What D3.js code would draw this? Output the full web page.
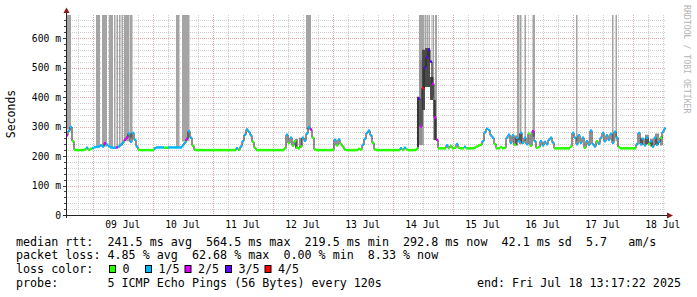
<!DOCTYPE html>
<html>
<head>
<meta charset="utf-8">
<script src="https://cdn.jsdelivr.net/npm/d3@7"></script>
<style>
  body { margin: 0; background: #fff; }
  svg text { font-family: "DejaVu Sans Mono", monospace; white-space: pre; }
</style>
</head>
<body>
<div id="chart"></div>
<script>
// graph window (10 days, 48 min per consolidated step)
const startTime = new Date(2025, 6, 8, 13, 17, 22);
const endTime = new Date(2025, 6, 18, 13, 17, 22);
const stepMinutes = 48;

// median rtt per step, ms
const median = [
  270,285,298,250,221,220,220,220,220,222,
  228,221,224,227,230,231,232,236,232,243,
  238,233,229,228,228,229,232,238,245,255,
  262,276,248,278,255,232,221,220,220,220,
  220,220,220,220,226,229,229,229,229,228,
  228,229,229,229,229,229,229,229,236,245,
  258,284,262,235,221,220,220,220,220,220,
  220,220,220,220,220,220,220,220,220,220,
  220,220,220,220,220,226,221,232,250,272,
  290,282,270,248,228,220,220,220,220,220,
  220,220,220,220,220,220,220,220,220,226,
  272,244,262,235,250,228,226,232,262,252,
  276,297,290,262,222,220,220,220,220,220,
  220,220,220,221,255,236,256,240,232,222,
  220,220,220,220,220,220,224,222,238,258,
  278,286,270,245,222,220,220,220,220,220,
  220,220,220,220,220,220,220,226,221,228,
  222,220,220,220,220,224,395,300,430,500,
  535,560,520,445,330,255,226,226,226,226,
  236,227,234,226,228,240,228,226,226,231,
  226,226,226,226,228,232,236,238,250,280,
  292,288,270,262,240,226,226,230,226,228,
  262,272,245,270,238,262,250,278,245,262,
  240,276,235,284,250,228,230,250,236,248,
  240,255,262,246,226,226,226,226,226,226,
  226,226,232,278,262,240,270,245,262,228,
  250,238,286,240,232,250,242,262,278,250,
  270,255,275,245,282,262,230,226,226,226,
  226,226,226,226,226,240,278,240,258,236,
  262,240,250,232,262,238,248,262,282,293
];

// loss class runs [fromStep, toStep, lostPings]; other steps lost 0
const lossRuns = [
  [0,0,2],[1,2,1],[10,10,1],[13,18,1],[19,19,2],[20,24,1],[25,25,2],[26,28,1],
  [29,30,2],[31,35,1],[44,48,1],[51,59,1],[60,60,2],[61,62,1],
  [85,85,1],[87,92,1],[110,110,1],[112,112,1],[118,121,1],[122,122,2],
  [134,134,1],[136,136,1],[148,152,1],[167,167,1],[169,169,1],
  [176,176,3],[177,177,2],[178,178,4],[179,182,3],[183,185,2],
  [190,190,1],[195,195,1],[199,199,1],[208,213,1],
  [220,223,1],[225,230,1],[233,233,2],[234,234,1],[237,243,1],
  [253,258,1],[260,264,1],[266,275,1],[285,290,1],[292,296,1],[298,299,1]
];
const lossLabels = ["0", "1/5", "2/5", "3/5", "4/5"];
const lossColors = ["#26ff00", "#00b8ff", "#dd00ff", "#5e00ff", "#ff0000"];

// smoke: [fromHour, toHour, low ms, high ms]
const smokeBars = [
  [0,2,290,2000],[12,13.6,232,2000],[14.4,16.4,232,2000],[17.2,18.8,230,2000],
  [19.2,19.8,229,2000],[20.2,20.8,230,2000],[21.2,21.8,232,2000],[22.2,22.8,236,2000],
  [23.2,25.4,250,2000],[25.6,26.6,262,2000],[44,45.4,230,2000],[46.4,49.4,250,2000],
  [96,98,290,2000],[141.2,143.2,237,2000],[143.4,144,500,2000],[144.2,145,530,2000],
  [145.2,145.6,540,2000],[146.2,146.6,450,2000],[146.8,147.2,400,2000],[147.6,148.4,260,2000],
  [180.4,181.4,250,2000],[181.6,182.2,250,2000],[183.4,184,250,2000],[186.6,187.6,265,2000],
  [204,204.6,250,2000],[218.4,219,250,2000],[219.8,220.4,250,2000]
];
const smokeMid = [
  [141.4,142.4,237,525],[91.6,92.8,225,258],[93.2,94.4,228,262],
  [229.6,230.8,236,262],[231.6,233.2,240,272],[233.6,234.8,232,258],
  [235.6,237.2,238,276],[237.6,238.8,236,266],
  [179.6,180.8,235,270],[181.2,182.4,240,275]
];
const smokeDark = [
  [140.4,141.2,231,401],[142.4,143.6,356,560],[143.6,145.6,434,566],
  [145.6,147,390,468],[147,148,254,390]
];

const yTicks = [0, 100, 200, 300, 400, 500, 600];
const medianStats = [241.5, 564.5, 219.5, 292.8, 42.1];
const amPerSec = 5.7;
const lossStats = [4.85, 62.68, 0.00, 8.33];
const probeText = "5 ICMP Echo Pings (56 Bytes) every 120s";

const W = 697, H = 297;
const svg = d3.select("#chart").append("svg").attr("width", W).attr("height", H);

const x = d3.scaleTime().domain([startTime, endTime]).range([66, 666]);
const y = d3.scaleLinear().domain([0, 678]).range([215, 15]).clamp(true);

const stepTime = (i) => new Date(startTime.getTime() + i * stepMinutes * 60000);
const hourTime = (h) => new Date(startTime.getTime() + h * 3600000);
const px = (v) => Math.round(v) + 0.5;

// grid
const grid = svg.append("g");
d3.range(20, 678, 20).forEach((v) => {
  grid.append("line")
    .attr("x1", 66).attr("x2", 666).attr("y1", px(y(v))).attr("y2", px(y(v)))
    .attr("stroke", v % 100 ? "#cfcfcf" : "#e4a6a6")
    .attr("stroke-dasharray", "1,1");
});
d3.timeHour.every(6).range(startTime, endTime).forEach((t) => {
  const major = t.getHours() === 0;
  grid.append("line")
    .attr("x1", px(x(t))).attr("x2", px(x(t))).attr("y1", 15).attr("y2", 215)
    .attr("stroke", major ? "#e4a6a6" : "#cfcfcf")
    .attr("stroke-dasharray", "1,1");
});

// smoke
const smoke = svg.append("g");
function drawSmoke(list, color) {
  smoke.selectAll(null).data(list).enter().append("rect")
    .attr("x", (d) => x(hourTime(d[0])))
    .attr("width", (d) => x(hourTime(d[1])) - x(hourTime(d[0])))
    .attr("y", (d) => y(d[3]))
    .attr("height", (d) => y(d[2]) - y(d[3]))
    .attr("fill", color);
}
drawSmoke(smokeBars, "#a4a4a4");
drawSmoke(smokeMid, "#8e8e8e");
drawSmoke(smokeDark, "#4a4a4a");

// median line
const pts = median.map((m, i) => [x(stepTime(i)), y(m)]);
pts.push([x(stepTime(median.length)), y(median[median.length - 1])]);
svg.append("path")
  .attr("d", d3.line().curve(d3.curveStepAfter)(pts))
  .attr("fill", "none")
  .attr("stroke", "#202020")
  .attr("stroke-width", 1);

const lossOf = median.map(() => 0);
lossRuns.forEach(([a, b, l]) => { for (let i = a; i <= b; i++) lossOf[i] = l; });

svg.append("g").selectAll("rect").data(median).enter().append("rect")
  .attr("x", (d, i) => x(stepTime(i)))
  .attr("width", (d, i) => x(stepTime(i + 1)) - x(stepTime(i)))
  .attr("y", (d) => y(d) - 1.25)
  .attr("height", 2.5)
  .attr("fill", (d, i) => lossColors[lossOf[i]]);

// axes
const axis = svg.append("g");
axis.append("line").attr("x1", 63).attr("x2", 668).attr("y1", 215.5).attr("y2", 215.5)
  .attr("stroke", "#222");
axis.append("path").attr("d", "M667,212.5L673,215.5L667,218.5Z").attr("fill", "#8b1a1a");
axis.append("line").attr("x1", 66.5).attr("x2", 66.5).attr("y1", 218).attr("y2", 12)
  .attr("stroke", "#222");
axis.append("path").attr("d", "M63.5,13L66.5,7.5L69.5,13Z").attr("fill", "#8b1a1a");

d3.range(20, 678, 20).forEach((v) => {
  axis.append("line")
    .attr("x1", v % 100 ? 64 : 63).attr("x2", 66).attr("y1", px(y(v))).attr("y2", px(y(v)))
    .attr("stroke", "#444");
});

axis.selectAll("text.yl").data(yTicks).enter().append("text")
  .attr("x", 61).attr("y", (d) => y(d) + 3.5)
  .attr("text-anchor", "end")
  .attr("font-size", "9.7px")
  .text((d) => (d ? d + " m" : "0"));

const fmtDay = d3.timeFormat("%d %b");
axis.selectAll("text.xl").data(d3.timeDay.range(d3.timeDay.ceil(startTime), endTime)).enter()
  .append("text")
  .attr("x", (d) => x(d3.timeHour.offset(d, 12)))
  .attr("y", 228)
  .attr("text-anchor", "middle")
  .attr("font-size", "9.7px")
  .text((d) => fmtDay(d));

svg.append("text")
  .attr("transform", "translate(15,114) rotate(-90)")
  .attr("text-anchor", "middle")
  .attr("font-size", "11.5px")
  .text("Seconds");

svg.append("text")
  .attr("transform", "translate(684,5) rotate(90)")
  .attr("font-size", "8.2px")
  .attr("fill", "#b4b4b4")
  .text("RRDTOOL / TOBI OETIKER");

// legend
const legend = svg.append("g").attr("font-size", "11.7px");
const f1 = d3.format(".1f"), f2 = d3.format(".2f");
legend.append("text").attr("x", 16).attr("y", 245.5)
  .text("median rtt:  " + f1(medianStats[0]) + " ms avg  " + f1(medianStats[1]) + " ms max  " +
    f1(medianStats[2]) + " ms min  " + f1(medianStats[3]) + " ms now  " + f1(medianStats[4]) +
    " ms sd  " + f1(amPerSec) + "   am/s");
legend.append("text").attr("x", 16).attr("y", 259)
  .text("packet loss: " + f2(lossStats[0]) + " % avg  " + f2(lossStats[1]) + " % max  " +
    f2(lossStats[2]) + " % min  " + f2(lossStats[3]) + " % now");
legend.append("text").attr("x", 16).attr("y", 273).text("loss color:");
const boxX = [109, 145, 184.5, 225, 264.5];
lossLabels.forEach((lab, i) => {
  legend.append("rect")
    .attr("x", boxX[i] + 0.5).attr("y", 265.5).attr("width", 6).attr("height", 7)
    .attr("fill", lossColors[i]).attr("stroke", "#000").attr("stroke-width", 1);
  legend.append("text").attr("x", boxX[i] + 13.5).attr("y", 273).text(lab);
});
legend.append("text").attr("x", 16).attr("y", 286.5).text("probe:       " + probeText);
legend.append("text").attr("x", 681).attr("y", 286.5).attr("text-anchor", "end")
  .text(d3.timeFormat("end: %a %b %d %H:%M:%S %Y")(endTime));
</script>
</body>
</html>
